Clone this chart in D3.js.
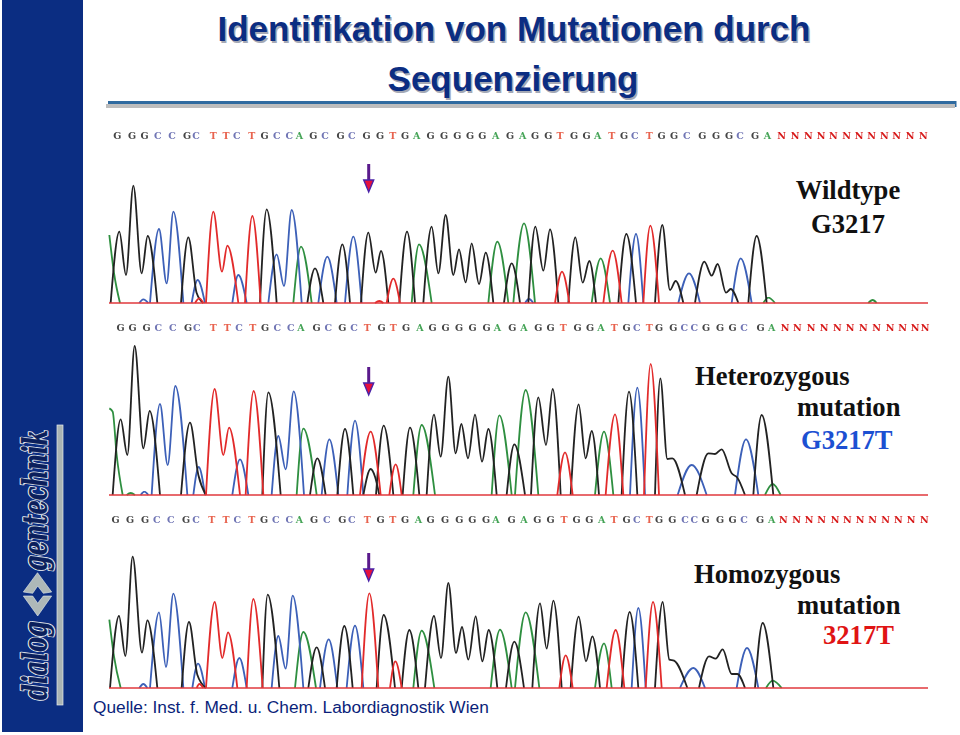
<!DOCTYPE html>
<html>
<head>
<meta charset="utf-8">
<title>Identifikation von Mutationen durch Sequenzierung</title>
<script src="https://cdnjs.cloudflare.com/ajax/libs/d3/7.8.5/d3.min.js"></script>
<style>
    html, body { margin: 0; padding: 0; background: #fff; }
    svg { display: block; }
</style>
</head>
<body>
<svg id="viz" width="960" height="735"></svg>
<script>
// values: each trace is a list of [scan, signal] turning points
var titleLines = ["Identifikation von Mutationen durch", "Sequenzierung"];
var sourceNote = "Quelle: Inst. f. Med. u. Chem. Labordiagnostik Wien";

var wtBases = "GGGCCGCTTCTGCCAGCGCGGTGAGGGGGAGAGGTGGATGCTGGCGGGCGANNNNNNNNNNNN".split("");
var wtBaseScans = [52, 96, 134, 173, 216, 261, 288, 340, 378, 410, 455, 494, 530, 568, 598, 640, 675, 722, 755, 800, 840, 878, 915, 950, 992, 1032, 1072, 1110, 1147, 1187, 1230, 1268, 1305, 1345, 1380, 1422, 1460, 1493, 1535, 1572, 1604, 1648, 1685, 1722, 1760, 1807, 1848, 1887, 1920, 1965, 2002, 2045, 2085, 2125, 2163, 2200, 2240, 2277, 2315, 2353, 2390, 2430, 2470];

var hetBases = "GGGCCGCTTCTGCCAGCGCTGTGAGGGGGAGAGGTGGATGCTGGCCGGGCGANNNNNNNNNNNN".split("");
var hetBaseScans = [62, 98, 140, 175, 218, 264, 290, 340, 382, 417, 458, 495, 532, 572, 603, 650, 685, 727, 762, 802, 845, 880, 918, 960, 998, 1037, 1077, 1118, 1160, 1192, 1237, 1272, 1315, 1352, 1390, 1433, 1470, 1503, 1543, 1580, 1610, 1648, 1677, 1720, 1753, 1783, 1818, 1860, 1898, 1932, 1982, 2015, 2055, 2092, 2133, 2172, 2212, 2250, 2290, 2330, 2370, 2408, 2445, 2475];

var homBases = "GGGCCGCTTCTGCCAGCGCTGTGAGGGGGAGAGGTGGATGCTGGCCGGGCGANNNNNNNNNNNN".split("");
var homBaseScans = [47, 90, 135, 170, 212, 258, 288, 335, 378, 412, 455, 492, 527, 568, 598, 642, 680, 727, 755, 802, 842, 878, 915, 955, 992, 1035, 1078, 1117, 1158, 1188, 1235, 1272, 1312, 1352, 1392, 1430, 1468, 1505, 1542, 1580, 1610, 1648, 1677, 1717, 1755, 1783, 1817, 1860, 1898, 1932, 1980, 2015, 2050, 2090, 2127, 2165, 2205, 2242, 2280, 2318, 2357, 2395, 2433, 2473];

var wtGreen = [
    [[28, 204], [42, 90], [60, 0]], [[580, 0], [603, 169], [635, 0]], [[935, 0], [957, 176], [995, 0]],
    [[1165, 0], [1192, 184], [1225, 0]], [[1240, 0], [1272, 239], [1305, 0]], [[1475, 0], [1502, 134], [1530, 0]],
    [[1990, 0], [2005, 16], [2025, 0]], [[2305, 0], [2318, 9], [2330, 0]]
];
var wtBlue = [
    [[118, 0], [130, 11], [145, 0]], [[150, 0], [177, 222], [200, 59], [220, 274], [250, 0]], [[275, 0], [293, 69], [315, 0]],
    [[397, 0], [415, 84], [440, 0]], [[505, 0], [530, 146], [552, 51], [575, 279], [605, 0]], [[655, 0], [682, 139], [710, 0]],
    [[735, 0], [760, 199], [785, 0]], [[1275, 0], [1287, 12], [1300, 0]], [[1585, 0], [1608, 207], [1630, 0]],
    [[1735, 0], [1767, 89], [1800, 0]], [[1895, 0], [1922, 134], [1955, 0]]
];
var wtRed = [
    [[285, 0], [298, 14], [310, 0]], [[318, 0], [340, 274], [366, 94], [382, 172], [415, 0]], [[435, 0], [457, 261], [482, 0]],
    [[825, 0], [838, 6], [850, 0]], [[860, 0], [880, 73], [900, 0]], [[1365, 0], [1386, 94], [1408, 0]],
    [[1510, 0], [1538, 157], [1565, 0]], [[1630, 0], [1651, 232], [1677, 0]]
];
var wtBlack = [
    [[32, 0], [58, 214], [78, 84], [100, 352], [125, 89], [143, 201], [172, 0]], [[243, 0], [265, 197], [290, 30], [310, 0]],
    [[480, 0], [500, 281], [530, 0]], [[622, 0], [645, 104], [670, 0]], [[705, 0], [727, 176], [750, 0]],
    [[783, 0], [805, 211], [827, 91], [843, 156], [865, 0]], [[898, 0], [921, 214], [945, 0]],
    [[970, 0], [995, 229], [1015, 89], [1037, 264], [1060, 84], [1077, 161], [1097, 62], [1115, 179], [1137, 57], [1157, 151], [1180, 0]],
    [[1212, 0], [1235, 119], [1260, 0]], [[1285, 0], [1306, 229], [1330, 97], [1350, 221], [1375, 0]],
    [[1405, 0], [1426, 197], [1448, 61], [1468, 126], [1488, 0]], [[1555, 0], [1579, 207], [1608, 0]],
    [[1665, 0], [1687, 234], [1710, 39], [1727, 66], [1750, 0]],
    [[1785, 0], [1813, 124], [1835, 82], [1853, 117], [1878, 31], [1892, 42], [1915, 0]], [[1945, 0], [1970, 201], [2000, 0]]
];

var hetGreen = [
    [[28, 260], [38, 250], [50, 120], [68, 0]], [[80, 0], [92, 6], [105, 0]], [[590, 0], [610, 199], [650, 0]],
    [[940, 0], [965, 210], [1005, 0]], [[1175, 0], [1198, 239], [1235, 0]], [[1245, 0], [1277, 315], [1315, 0]],
    [[1485, 0], [1512, 190], [1540, 0]], [[1995, 0], [2018, 33], [2042, 0]]
];
var hetBlue = [
    [[122, 0], [133, 10], [145, 0]], [[155, 0], [180, 273], [203, 90], [226, 327], [262, 0]], [[280, 0], [296, 84], [315, 0]],
    [[397, 0], [420, 107], [445, 0]], [[515, 0], [535, 177], [557, 77], [581, 311], [612, 0]], [[665, 0], [688, 167], [715, 0]],
    [[742, 0], [765, 223], [790, 0]], [[1590, 0], [1612, 322], [1635, 0]], [[1733, 0], [1775, 90], [1820, 0]],
    [[1905, 0], [1938, 167], [1975, 0]]
];
var hetRed = [
    [[318, 0], [344, 318], [370, 120], [387, 202], [420, 0]], [[437, 0], [461, 312], [490, 0]], [[780, 0], [812, 190], [842, 0]],
    [[868, 0], [887, 92], [905, 0]], [[1372, 0], [1395, 128], [1418, 0]], [[1517, 0], [1545, 242], [1570, 0]],
    [[1632, 0], [1652, 393], [1677, 0]]
];
var hetBlack = [
    [[38, 0], [62, 227], [82, 120], [104, 447], [130, 140], [149, 252], [180, 0]], [[243, 0], [270, 217], [295, 60], [318, 0]],
    [[487, 0], [505, 308], [542, 0]], [[630, 0], [652, 110], [677, 0]], [[712, 0], [735, 198], [760, 0]],
    [[790, 0], [812, 78], [825, 55], [838, 0]], [[828, 0], [851, 208], [880, 0]], [[908, 0], [930, 202], [958, 0]],
    [[980, 0], [1002, 241], [1022, 115], [1045, 355], [1067, 125], [1084, 213], [1104, 110], [1125, 241], [1146, 100], [1165, 198], [1190, 0]],
    [[1220, 0], [1243, 152], [1275, 0]], [[1293, 0], [1315, 293], [1338, 150], [1358, 318], [1382, 0]],
    [[1412, 0], [1436, 272], [1457, 110], [1475, 192], [1497, 0]], [[1565, 0], [1587, 310], [1612, 0]],
    [[1665, 0], [1681, 350], [1702, 108], [1717, 110], [1755, 0]],
    [[1790, 0], [1825, 125], [1845, 123], [1865, 137], [1895, 65], [1912, 52], [1935, 0]], [[1960, 0], [1985, 240], [2020, 0]]
];

var homGreen = [
    [[28, 205], [42, 95], [62, 0]], [[585, 0], [610, 168], [648, 0]], [[940, 0], [965, 172], [1003, 0]],
    [[1172, 0], [1200, 175], [1235, 0]], [[1245, 0], [1277, 227], [1318, 0]], [[1485, 0], [1512, 134], [1535, 0]],
    [[1998, 0], [2018, 22], [2045, 0]]
];
var homBlue = [
    [[118, 0], [130, 12], [142, 0]], [[150, 0], [177, 227], [198, 63], [220, 283], [250, 0]], [[277, 0], [294, 73], [315, 0]],
    [[397, 0], [418, 90], [440, 0]], [[515, 0], [535, 156], [557, 58], [578, 277], [610, 0]], [[660, 0], [686, 146], [712, 0]],
    [[740, 0], [765, 187], [790, 0]], [[1595, 0], [1615, 240], [1637, 0]], [[1740, 0], [1780, 60], [1815, 0]],
    [[1910, 0], [1941, 120], [1975, 0]]
];
var homRed = [
    [[290, 0], [298, 12], [310, 0]], [[318, 0], [344, 258], [367, 90], [384, 167], [412, 0]], [[440, 0], [460, 267], [488, 0]],
    [[785, 0], [808, 284], [835, 0]], [[870, 0], [886, 80], [905, 0]], [[1378, 0], [1397, 98], [1418, 0]],
    [[1520, 0], [1547, 174], [1573, 0]], [[1637, 0], [1659, 258], [1685, 0]]
];
var homBlack = [
    [[30, 0], [57, 216], [76, 96], [98, 394], [126, 106], [142, 203], [172, 0]], [[245, 0], [267, 198], [292, 40], [318, 0]],
    [[487, 0], [503, 280], [538, 0]], [[625, 0], [650, 122], [675, 0]], [[710, 0], [733, 186], [758, 0]],
    [[830, 0], [851, 219], [885, 0]], [[905, 0], [928, 174], [955, 0]],
    [[975, 0], [1002, 216], [1023, 90], [1045, 315], [1068, 105], [1086, 183], [1105, 85], [1127, 215], [1147, 80], [1166, 174], [1192, 0]],
    [[1218, 0], [1243, 139], [1272, 0]], [[1297, 0], [1320, 254], [1340, 118], [1360, 262], [1385, 0]],
    [[1412, 0], [1436, 214], [1458, 80], [1477, 155], [1500, 0]], [[1565, 0], [1589, 228], [1615, 0]],
    [[1665, 0], [1688, 258], [1708, 85], [1722, 82], [1762, 0]],
    [[1797, 0], [1827, 95], [1847, 88], [1868, 116], [1895, 42], [1912, 42], [1935, 0]], [[1965, 0], [1988, 195], [2020, 0]]
];

// layout
var svg = d3.select("#viz");
var navy = "#0b2d82";
var serif = "'Liberation Serif', serif";
var sans = "'Liberation Sans', Arial, sans-serif";

var scanX = d3.scaleLinear().domain([0, 2580]).range([100, 960]);
var signalY = d3.scaleLinear().domain([0, 400]).range([0, -133.33]);

var baseColor = { G: "#454545", C: "#6f74b4", T: "#e8644f", A: "#45a457", N: "#d71a1a" };

var panels = [
    { baseline: 303, seqY: 139, arrowTop: 164, bases: wtBases, scans: wtBaseScans, green: wtGreen, blue: wtBlue, red: wtRed, black: wtBlack },
    { baseline: 495, seqY: 331, arrowTop: 367, bases: hetBases, scans: hetBaseScans, green: hetGreen, blue: hetBlue, red: hetRed, black: hetBlack },
    { baseline: 688, seqY: 523, arrowTop: 553, bases: homBases, scans: homBaseScans, green: homGreen, blue: homBlue, red: homRed, black: homBlack }
];

var labels = [
    { text: "Wildtype", x: 848, y: 199, anchor: "middle", fill: "#111" },
    { text: "G3217", x: 848, y: 233, anchor: "middle", fill: "#111" },
    { text: "Heterozygous", x: 695, y: 385, anchor: "start", fill: "#111" },
    { text: "mutation", x: 797, y: 416, anchor: "start", fill: "#111" },
    { text: "G3217T", x: 801, y: 449, anchor: "start", fill: "#1c50d2" },
    { text: "Homozygous", x: 694, y: 583, anchor: "start", fill: "#111" },
    { text: "mutation", x: 797, y: 614, anchor: "start", fill: "#111" },
    { text: "3217T", x: 823, y: 644, anchor: "start", fill: "#e01414" }
];

var defs = svg.append("defs");
defs.append("filter").attr("id", "soft")
    .append("feGaussianBlur").attr("stdDeviation", 0.3);

// left band with logo
svg.append("rect").attr("x", 2).attr("y", 0).attr("width", 81).attr("height", 732).attr("fill", navy);
svg.append("rect").attr("x", 57).attr("y", 425).attr("width", 6).attr("height", 280)
    .attr("fill", "#aab4b4").attr("stroke", "#e8eeee").attr("stroke-width", 0.7);

var logo = svg.append("g").attr("class", "logo");
[{ text: "dialog", y: 700, len: 79 }, { text: "gentechnik", y: 571, len: 141 }].forEach(function(d) {
    logo.append("text")
        .attr("transform", "translate(47," + d.y + ") rotate(-90)")
        .attr("font-family", "'DejaVu Serif', serif").attr("font-weight", "bold").attr("font-style", "italic")
        .attr("font-size", 33)
        .attr("textLength", d.len).attr("lengthAdjust", "spacingAndGlyphs")
        .attr("fill", "#0b1f5c").attr("stroke", "#f2f5f5").attr("stroke-width", 2.6)
        .attr("stroke-linejoin", "round")
        .text(d.text);
    logo.append("text")
        .attr("transform", "translate(47," + d.y + ") rotate(-90)")
        .attr("font-family", "'DejaVu Serif', serif").attr("font-weight", "bold").attr("font-style", "italic")
        .attr("font-size", 33)
        .attr("textLength", d.len).attr("lengthAdjust", "spacingAndGlyphs")
        .attr("fill", "#0b1f5c").attr("stroke", "#0b1f5c").attr("stroke-width", 0.5)
        .text(d.text);
});
logo.append("path")
    .attr("d", "M23.3,592L37.5,572.7L51.7,592L43.3,593.3L37.7,586L32.7,593.3Z")
    .attr("fill", "#aeb8b8").attr("stroke", "#e8eeee").attr("stroke-width", 0.6);
logo.append("path")
    .attr("d", "M23.3,596L32.7,596L37.7,603.3L43.3,596L51.7,596L37.7,616Z")
    .attr("fill", "#aeb8b8").attr("stroke", "#e8eeee").attr("stroke-width", 0.6);

// title and rule
titleLines.forEach(function(line, i) {
    var y = 41 + i * 50;
    var cx = i == 0 ? 514 : 513;
    svg.append("text").attr("x", cx + 1.5).attr("y", y + 1.5).attr("text-anchor", "middle")
        .attr("font-family", sans).attr("font-weight", "bold").attr("font-size", 35)
        .attr("fill", "#a5a9b5").text(line);
    svg.append("text").attr("x", cx).attr("y", y).attr("text-anchor", "middle")
        .attr("font-family", sans).attr("font-weight", "bold").attr("font-size", 35)
        .attr("fill", "#0b2d82").text(line);
});
svg.append("rect").attr("x", 106).attr("y", 104).attr("width", 849).attr("height", 4).attr("fill", "#bdbdbd");
svg.append("rect").attr("x", 108).attr("y", 101).attr("width", 848).attr("height", 3).attr("fill", "#2f6a9f");
svg.append("rect").attr("x", 955).attr("y", 101).attr("width", 1.5).attr("height", 6).attr("fill", "#2f6a9f");

// traces
var traceLine = d3.line()
    .x(function(d) { return scanX(d[0]); })
    .y(function(d) { return signalY(d[1]); })
    .curve(d3.curveMonotoneX);

var channels = [
    { key: "green", color: "#2f8f40" },
    { key: "blue", color: "#3c60b8" },
    { key: "black", color: "#222222" },
    { key: "red", color: "#e22b2b" }
];

panels.forEach(function(panel) {
    var g = svg.append("g").attr("transform", "translate(0," + panel.baseline + ")");

    channels.forEach(function(ch) {
        g.selectAll(".trace-" + ch.key)
            .data(panel[ch.key])
            .enter().append("path")
            .attr("class", "trace-" + ch.key)
            .attr("d", traceLine)
            .attr("fill", "none")
            .attr("stroke", ch.color)
            .attr("stroke-width", 1.8)
            .attr("filter", "url(#soft)");
    });

    g.append("line")
        .attr("x1", 109).attr("x2", 928).attr("y1", 0).attr("y2", 0)
        .attr("stroke", "#e0393c").attr("stroke-width", 1.6);

    // base calls along the top of each panel
    svg.append("g")
        .selectAll("text")
        .data(panel.bases)
        .enter().append("text")
        .attr("x", function(d, i) { return scanX(panel.scans[i]); })
        .attr("y", panel.seqY)
        .attr("text-anchor", "middle")
        .attr("font-family", "'DejaVu Serif', serif")
        .attr("font-weight", "bold")
        .attr("font-size", 9.5)
        .attr("fill", function(d) { return baseColor[d]; })
        .attr("filter", "url(#soft)")
        .text(function(d) { return d; });

    // arrow marking position 3217
    var ax = 368.7, top = panel.arrowTop;
    svg.append("line").attr("x1", ax).attr("x2", ax).attr("y1", top).attr("y2", top + 17)
        .attr("stroke", "#5a1a8c").attr("stroke-width", 3);
    svg.append("path")
        .attr("d", d3.line()([[ax - 5, top + 16], [ax + 5, top + 16], [ax, top + 28]]) + "Z")
        .attr("fill", "#e5103c").attr("stroke", "#4a22a8").attr("stroke-width", 1.4);
});

// panel labels
svg.selectAll(".panel-label")
    .data(labels)
    .enter().append("text")
    .attr("class", "panel-label")
    .attr("x", function(d) { return d.x; })
    .attr("y", function(d) { return d.y; })
    .attr("text-anchor", function(d) { return d.anchor; })
    .attr("font-family", serif)
    .attr("font-weight", "bold")
    .attr("font-size", 26.6)
    .attr("fill", function(d) { return d.fill; })
    .text(function(d) { return d.text; });

// source note
svg.append("text").attr("x", 93).attr("y", 713)
    .attr("font-family", sans).attr("font-size", 17.3).attr("fill", "#0b1f7a")
    .text(sourceNote);
</script>
</body>
</html>
